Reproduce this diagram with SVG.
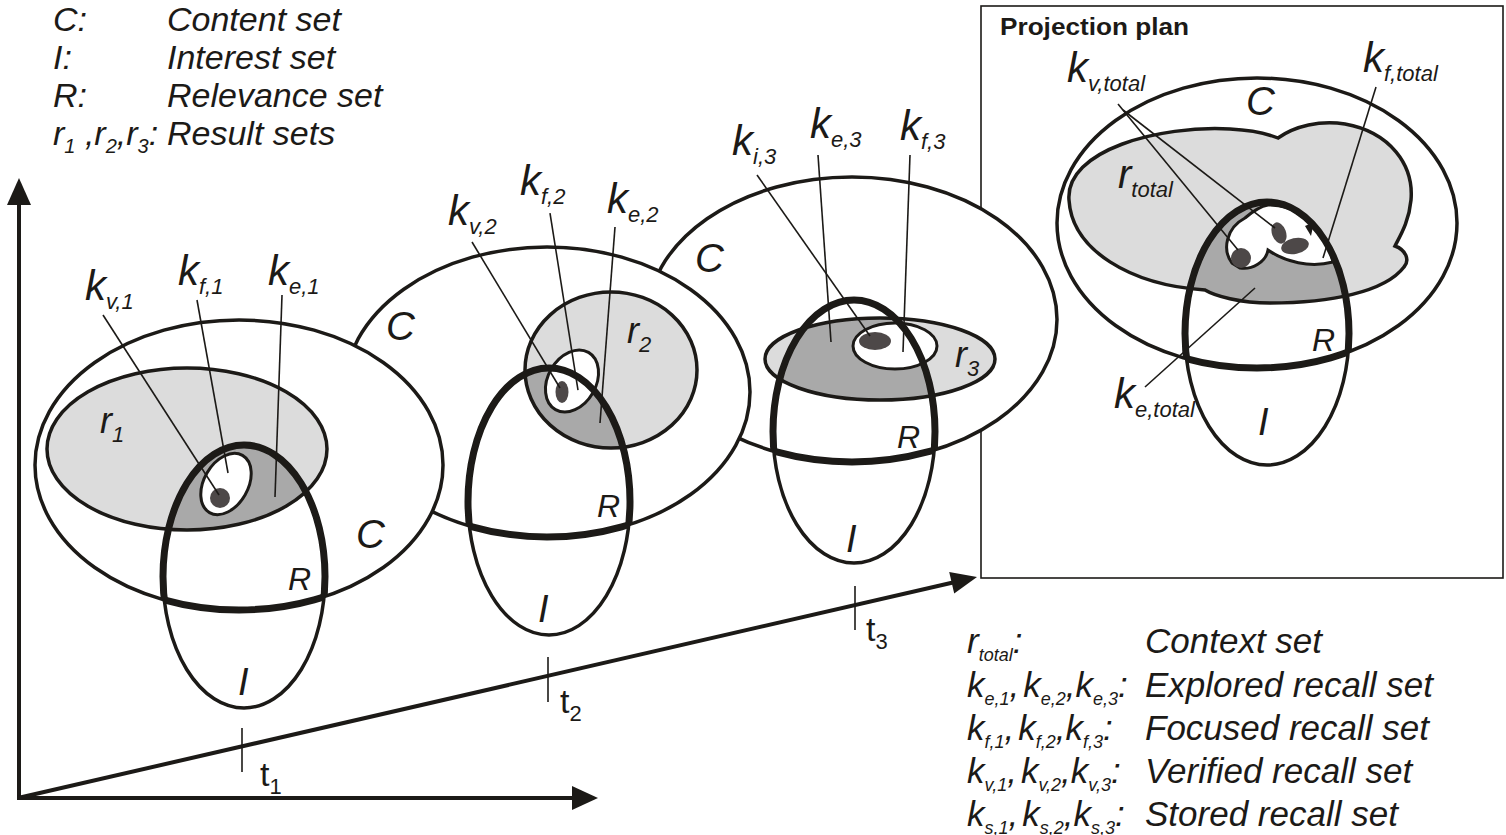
<svg xmlns="http://www.w3.org/2000/svg" width="1506" height="835" viewBox="0 0 1506 835">
<style>
.ln{fill:none;stroke:#1c1a17;stroke-width:3.5}
.thick{fill:none;stroke:#1c1a17;stroke-width:7}
.lead{stroke:#1c1a17;stroke-width:1.6;fill:none}
.ax{stroke:#1c1a17;stroke-width:4;fill:none}
.tick{stroke:#1c1a17;stroke-width:1.6}
.ah{fill:#1c1a17}
.cfill{fill:#ffffff}
.rfill{fill:#dcdcdc}
.mid{fill:#a9a9a9}
.dot{fill:#4d4848}
.kf{fill:#ffffff;stroke:#1c1a17;stroke-width:3}
.lab{font-family:"Liberation Sans",Arial,Helvetica,sans-serif;font-style:italic;fill:#1c1a17}
.k{font-size:42px}
.sub{font-size:22px}
.big{font-size:40px}
.rl{font-size:32px}
.il{font-size:38px}
.rr{font-size:36px}
.leg{font-size:34px}
.leg2{font-size:35px}
.ls{font-size:18px}
.tl{font-family:"Liberation Sans",Arial,Helvetica,sans-serif;font-size:34px;fill:#1c1a17}
.title{font-family:"Liberation Sans",Arial,Helvetica,sans-serif;font-weight:bold;font-size:23px;fill:#1c1a17}
</style>
<defs>
<ellipse id="C1" cx="239" cy="465" rx="204" ry="145"/>
<ellipse id="r1" cx="187" cy="449" rx="140" ry="81"/>
<ellipse id="I1" cx="244" cy="576.5" rx="81" ry="131.5"/>
<ellipse id="C2" cx="547" cy="392" rx="203" ry="145"/>
<ellipse id="r2" cx="611" cy="370" rx="86" ry="78"/>
<ellipse id="I2" cx="549" cy="501.5" rx="81" ry="133.5"/>
<ellipse id="C3" cx="852" cy="319.5" rx="205" ry="142.5"/>
<ellipse id="r3" cx="880" cy="359" rx="115" ry="41"/>
<ellipse id="I3" cx="854" cy="431.5" rx="81" ry="131.5"/>
<ellipse id="CT" cx="1257" cy="223" rx="200" ry="145"/>
<ellipse id="IT" cx="1267" cy="333.5" rx="82" ry="131.5"/>
<path id="RT" d="M1069,200 C1065,150 1160,125 1230,129 C1250,130 1268,134 1278,138 C1295,126 1320,120 1345,124 C1390,132 1414,165 1411,200 C1409,222 1400,236 1395,246 C1406,250 1410,260 1404,267 C1385,292 1330,303 1270,303 C1240,303 1215,296 1205,290 C1130,285 1072,250 1069,200 Z"/>
<clipPath id="cC1"><use href="#C1"/></clipPath>
<clipPath id="cI1"><use href="#I1"/></clipPath>
<clipPath id="cr1"><use href="#r1"/></clipPath>
<clipPath id="cC2"><use href="#C2"/></clipPath>
<clipPath id="cI2"><use href="#I2"/></clipPath>
<clipPath id="cr2"><use href="#r2"/></clipPath>
<clipPath id="cC3"><use href="#C3"/></clipPath>
<clipPath id="cI3"><use href="#I3"/></clipPath>
<clipPath id="cr3"><use href="#r3"/></clipPath>
<clipPath id="cCT"><use href="#CT"/></clipPath>
<clipPath id="cIT"><use href="#IT"/></clipPath>
<clipPath id="crT"><use href="#RT"/></clipPath>
</defs>
<rect width="1506" height="835" fill="#ffffff"/>

<g id="legend-top" class="lab leg">
<text x="53" y="31">C:</text><text x="167" y="31">Content set</text>
<text x="53" y="69">I:</text><text x="167" y="69">Interest set</text>
<text x="53" y="107">R:</text><text x="167" y="107">Relevance set</text>
<text x="53" y="145">r<tspan font-size="20" dy="8">1</tspan><tspan dy="-8"> ,r</tspan><tspan font-size="20" dy="8">2</tspan><tspan dy="-8">,r</tspan><tspan font-size="20" dy="8">3</tspan><tspan dy="-8">:</tspan></text>
<text x="167" y="145">Result sets</text>
</g>

<g id="projection-frame">
<rect x="981" y="6" width="522" height="572" fill="#ffffff" stroke="#1c1a17" stroke-width="1.6"/>
<text class="title" x="1000" y="35" textLength="189" lengthAdjust="spacingAndGlyphs">Projection plan</text>
</g>

<g id="axes">
<line class="ax" x1="19" y1="800" x2="19" y2="202"/>
<polygon class="ah" points="19,178 7,205 31,205"/>
<line class="ax" x1="17" y1="798" x2="576" y2="798"/>
<polygon class="ah" points="598,798 572,786 572,810"/>
<line class="ax" x1="18" y1="798" x2="953" y2="582.5"/>
<polygon class="ah" points="977,577 954.2,593.5 949.2,572.1"/>
<line class="tick" x1="242" y1="728" x2="242" y2="772"/>
<line class="tick" x1="548" y1="657" x2="548" y2="702"/>
<line class="tick" x1="855" y1="586" x2="855" y2="630"/>
<text class="tl" x="260" y="786">t<tspan font-size="22" dy="8">1</tspan></text>
<text class="tl" x="560" y="713">t<tspan font-size="22" dy="8">2</tspan></text>
<text class="tl" x="866" y="641">t<tspan font-size="22" dy="8">3</tspan></text>
</g>

<g id="slice-t3">
<use href="#C3" class="cfill"/>
<use href="#C3" class="ln"/>
<use href="#r3" class="rfill"/>
<use href="#I3" class="mid" clip-path="url(#cr3)"/>
<use href="#r3" class="ln"/>
<ellipse class="kf" cx="895" cy="346" rx="42" ry="23"/>
<ellipse class="dot" cx="875" cy="341" rx="16" ry="9"/>
<use href="#I3" class="ln"/>
<use href="#I3" class="thick" clip-path="url(#cC3)"/>
<use href="#C3" class="thick" clip-path="url(#cI3)"/>
<g class="lab">
<text class="big" x="695" y="272">C</text>
<text class="rr" x="955" y="367">r<tspan class="sub" dy="9">3</tspan></text>
<text class="rl" x="897" y="448">R</text>
<text class="il" x="846" y="552">I</text>
<text class="k" x="732" y="155">k<tspan class="sub" dy="9">i,3</tspan></text>
<text class="k" x="810" y="138">k<tspan class="sub" dy="9">e,3</tspan></text>
<text class="k" x="900" y="140">k<tspan class="sub" dy="9">f,3</tspan></text>
</g>
</g>

<g id="slice-t2">
<use href="#C2" class="cfill"/>
<use href="#C2" class="ln"/>
<use href="#r2" class="rfill"/>
<use href="#I2" class="mid" clip-path="url(#cr2)"/>
<use href="#r2" class="ln"/>
<ellipse class="kf" cx="572" cy="381" rx="24" ry="33" transform="rotate(30 572 381)"/>
<ellipse class="dot" cx="562" cy="392" rx="6.5" ry="11"/>
<use href="#I2" class="ln"/>
<use href="#I2" class="thick" clip-path="url(#cC2)"/>
<use href="#C2" class="thick" clip-path="url(#cI2)"/>
<g class="lab">
<text class="big" x="386" y="340">C</text>
<text class="rr" x="627" y="343">r<tspan class="sub" dy="9">2</tspan></text>
<text class="rl" x="597" y="517">R</text>
<text class="il" x="538" y="622">I</text>
<text class="k" x="448" y="225">k<tspan class="sub" dy="9">v,2</tspan></text>
<text class="k" x="520" y="195">k<tspan class="sub" dy="9">f,2</tspan></text>
<text class="k" x="607" y="213">k<tspan class="sub" dy="9">e,2</tspan></text>
</g>
</g>

<g id="slice-t1">
<use href="#C1" class="cfill"/>
<use href="#C1" class="ln"/>
<use href="#r1" class="rfill"/>
<use href="#I1" class="mid" clip-path="url(#cr1)"/>
<use href="#r1" class="ln"/>
<ellipse class="kf" cx="226" cy="484" rx="22" ry="33" transform="rotate(30 226 484)"/>
<circle class="dot" cx="220" cy="498" r="10"/>
<use href="#I1" class="ln"/>
<use href="#I1" class="thick" clip-path="url(#cC1)"/>
<use href="#C1" class="thick" clip-path="url(#cI1)"/>
<g class="lab">
<text class="big" x="356" y="548">C</text>
<text class="rr" x="100" y="433">r<tspan class="sub" dy="9">1</tspan></text>
<text class="rl" x="288" y="590">R</text>
<text class="il" x="238" y="695">I</text>
<text class="k" x="85" y="300">k<tspan class="sub" dy="9">v,1</tspan></text>
<text class="k" x="178" y="285">k<tspan class="sub" dy="9">f,1</tspan></text>
<text class="k" x="268" y="285">k<tspan class="sub" dy="9">e,1</tspan></text>
</g>
</g>

<g id="projection">
<use href="#CT" class="cfill"/>
<use href="#CT" class="ln"/>
<use href="#RT" class="rfill"/>
<use href="#IT" class="mid" clip-path="url(#crT)"/>
<use href="#RT" class="ln"/>
<path class="kf" d="M1232,263 C1222,250 1226,228 1245,218 C1252,212 1262,206 1268,205 C1290,205 1315,215 1330,250 L1333,262 C1310,268 1285,262 1268,250 C1266,262 1252,270 1240,268 Z"/>
<circle class="dot" cx="1241" cy="258" r="10"/>
<ellipse class="dot" cx="1279" cy="233" rx="7" ry="11" transform="rotate(-20 1279 233)"/>
<ellipse class="dot" cx="1295" cy="246" rx="14" ry="8" transform="rotate(-12 1295 246)"/>
<polygon class="ah" points="1305,226 1314,222 1311,236"/>
<use href="#IT" class="ln"/>
<use href="#IT" class="thick" clip-path="url(#cCT)"/>
<use href="#CT" class="thick" clip-path="url(#cIT)"/>
<g class="lab">
<text class="big" x="1246" y="115">C</text>
<text class="big" x="1118" y="188">r<tspan class="sub" dy="9">total</tspan></text>
<text class="rl" x="1312" y="351">R</text>
<text class="il" x="1258" y="435">I</text>
<text class="k" x="1067" y="82">k<tspan class="sub" dy="9">v,total</tspan></text>
<text class="k" x="1363" y="72">k<tspan class="sub" dy="9">f,total</tspan></text>
<text class="k" x="1114" y="408">k<tspan class="sub" dy="9">e,total</tspan></text>
</g>
</g>

<g id="connectors" class="lead">
<line x1="103" y1="315" x2="219" y2="495"/>
<line x1="197" y1="300" x2="228" y2="473"/>
<line x1="282" y1="295" x2="275" y2="497"/>
<line x1="472" y1="242" x2="560" y2="388"/>
<line x1="550" y1="213" x2="578" y2="390"/>
<line x1="615" y1="227" x2="600" y2="423"/>
<line x1="757" y1="175" x2="870" y2="336"/>
<line x1="818" y1="155" x2="831" y2="342"/>
<line x1="910" y1="155" x2="903" y2="352"/>
<line x1="1118" y1="104" x2="1238" y2="250"/>
<line x1="1123" y1="110" x2="1275" y2="228"/>
<line x1="1376" y1="87" x2="1323" y2="258"/>
<line x1="1145" y1="387" x2="1255" y2="288"/>
</g>

<g id="legend-bottom" class="lab leg2">
<text x="967" y="653">r<tspan class="ls" dy="8">total</tspan><tspan dy="-8">:</tspan></text>
<text x="1145" y="653">Context set</text>
<text x="967" y="697">k<tspan class="ls" dy="8">e,1</tspan><tspan dy="-8">,</tspan><tspan dx="4">k</tspan><tspan class="ls" dy="8">e,2</tspan><tspan dy="-8">,k</tspan><tspan class="ls" dy="8">e,3</tspan><tspan dy="-8">:</tspan></text>
<text x="1145" y="697">Explored recall set</text>
<text x="967" y="740">k<tspan class="ls" dy="8">f,1</tspan><tspan dy="-8">,</tspan><tspan dx="4">k</tspan><tspan class="ls" dy="8">f,2</tspan><tspan dy="-8">,k</tspan><tspan class="ls" dy="8">f,3</tspan><tspan dy="-8">:</tspan></text>
<text x="1145" y="740">Focused recall set</text>
<text x="967" y="783">k<tspan class="ls" dy="8">v,1</tspan><tspan dy="-8">,</tspan><tspan dx="4">k</tspan><tspan class="ls" dy="8">v,2</tspan><tspan dy="-8">,k</tspan><tspan class="ls" dy="8">v,3</tspan><tspan dy="-8">:</tspan></text>
<text x="1145" y="783">Verified recall set</text>
<text x="967" y="826">k<tspan class="ls" dy="8">s,1</tspan><tspan dy="-8">,</tspan><tspan dx="4">k</tspan><tspan class="ls" dy="8">s,2</tspan><tspan dy="-8">,k</tspan><tspan class="ls" dy="8">s,3</tspan><tspan dy="-8">:</tspan></text>
<text x="1145" y="826">Stored recall set</text>
</g>
</svg>
